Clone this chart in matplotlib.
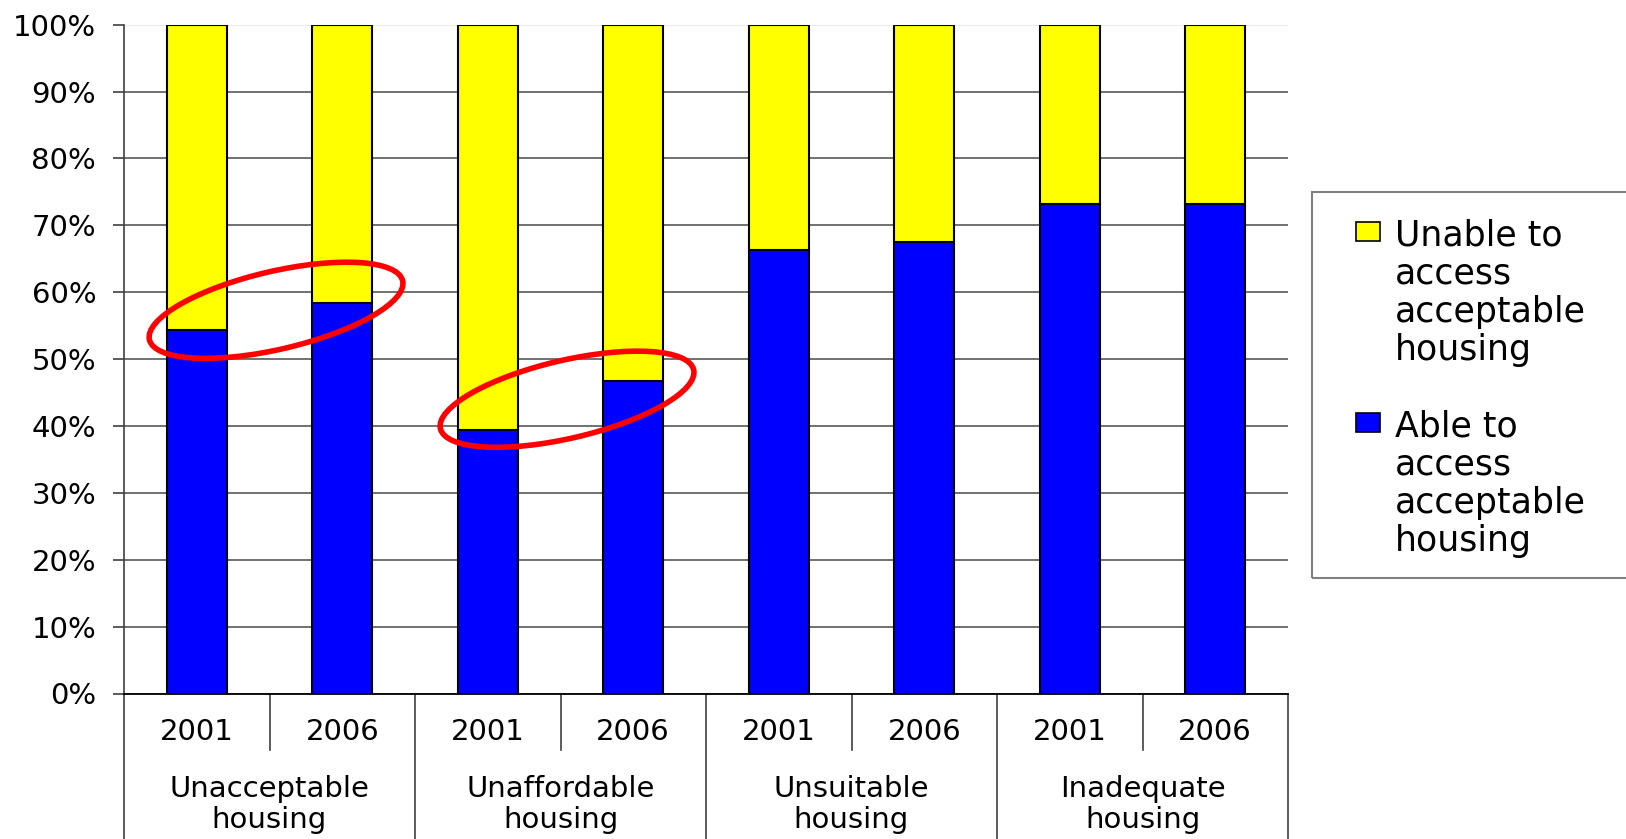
import matplotlib
matplotlib.use("Agg")
import matplotlib.pyplot as plt
from matplotlib.patches import Ellipse, Rectangle
from matplotlib.lines import Line2D
import matplotlib.transforms as mtransforms
import numpy as np

# --- data ---
groups = ["Unacceptable\nhousing", "Unaffordable\nhousing", "Unsuitable\nhousing", "Inadequate\nhousing"]
years = ["2001", "2006"]
able = [54.4, 58.4, 39.4, 46.8, 66.3, 67.5, 73.2, 73.2]
unable = [45.6, 41.6, 60.6, 53.2, 33.7, 32.5, 26.8, 26.8]
series_names = ["Unable to\naccess\nacceptable\nhousing", "Able to\naccess\nacceptable\nhousing"]
highlighted = [0, 1]  # groups circled in red

W, H = 1626, 839
fig = plt.figure(figsize=(W / 100, H / 100), dpi=100)
plt.rcParams['font.family'] = ['DejaVu Sans']

# axes box in pixels (top-left origin)
left_px, right_px, top_px, bot_px = 124, 1288, 24.7, 693.5
ax = fig.add_axes([left_px / W, (H - bot_px) / H, (right_px - left_px) / W, (bot_px - top_px) / H])

x = np.arange(len(able))
bw = 0.41
ax.bar(x, able, bw, color="#0000FF", edgecolor="black", linewidth=1.5, zorder=3)
ax.bar(x, unable, bw, bottom=able, color="#FFFF00", edgecolor="black", linewidth=1.5, zorder=3)

ax.set_xlim(-0.5, len(able) - 0.5)
ax.set_ylim(0, 100)
ax.set_yticks(np.arange(0, 101, 10))
ax.set_yticklabels([f"{v}%" for v in range(0, 101, 10)], fontsize=21)
ax.tick_params(axis="y", length=8, width=1.2, color="#404040", pad=12)
ax.set_xticks([])
ax.yaxis.grid(True, color="#666666", linewidth=1.3, zorder=0)
ax.set_axisbelow(True)
ax.get_ygridlines()[-1].set_color("#e8e8e8")
for s in ["top", "right"]:
    ax.spines[s].set_visible(False)
ax.spines["left"].set_color("#404040")
ax.spines["left"].set_linewidth(1.2)
ax.spines["bottom"].set_color("black")
ax.spines["bottom"].set_linewidth(1.3)

# --- two-level category axis ---
trans = mtransforms.blended_transform_factory(ax.transData, ax.transAxes)
ax_h = bot_px - top_px
def ay(py):
    return -(py - bot_px) / ax_h

for i in range(len(able)):
    ax.text(i, ay(739.5), years[i % 2], transform=trans, ha="center", va="baseline", fontsize=21)
for g, name in enumerate(groups):
    ax.text(2 * g + 0.5, ay(828.5), name, transform=trans, ha="center", va="baseline",
            fontsize=21, linespacing=1.18, multialignment="center")
for xs in [0.5, 2.5, 4.5, 6.5]:
    ax.add_line(Line2D([xs, xs], [0, ay(750)], transform=trans, color="#404040", lw=1.2, clip_on=False))
for xs in [-0.5, 1.5, 3.5, 5.5, 7.5]:
    ax.add_line(Line2D([xs, xs], [0, ay(H + 5)], transform=trans, color="#404040", lw=1.2, clip_on=False))

# --- red highlight ellipses ---
for g in highlighted:
    i0, i1 = 2 * g, 2 * g + 1
    cx = (i0 + i1) / 2 + 0.045
    cy = (able[i0] + able[i1]) / 2 + 0.9
    px, py = ax.transData.transform((cx, cy))
    fig.add_artist(Ellipse((px, py), 260, 78, angle=13.1, fill=False, edgecolor="#FF0000",
                           linewidth=4.0, transform=mtransforms.IdentityTransform(), zorder=10))

# --- legend drawn by hand ---
def fy(py):
    return (H - py) / H

fig.add_artist(Rectangle((1312 / W, fy(578)), (1660 - 1312) / W, (578 - 192) / H,
                         transform=fig.transFigure, fill=False, edgecolor="#808080", linewidth=1.5))
leg_colors = ["#FFFF00", "#0000FF"]
handle_tops = [222.3, 413]
last_baselines = [360, 551]
for name, col, ht, bl in zip(series_names, leg_colors, handle_tops, last_baselines):
    fig.add_artist(Rectangle((1356 / W, fy(ht + 19)), 24 / W, 19 / H, transform=fig.transFigure,
                             facecolor=col, edgecolor="black", linewidth=1.2))
    fig.text(1395 / W, fy(bl), name, ha="left", va="baseline", fontsize=25, linespacing=1.15)

fig.savefig("out.png", dpi=100)
